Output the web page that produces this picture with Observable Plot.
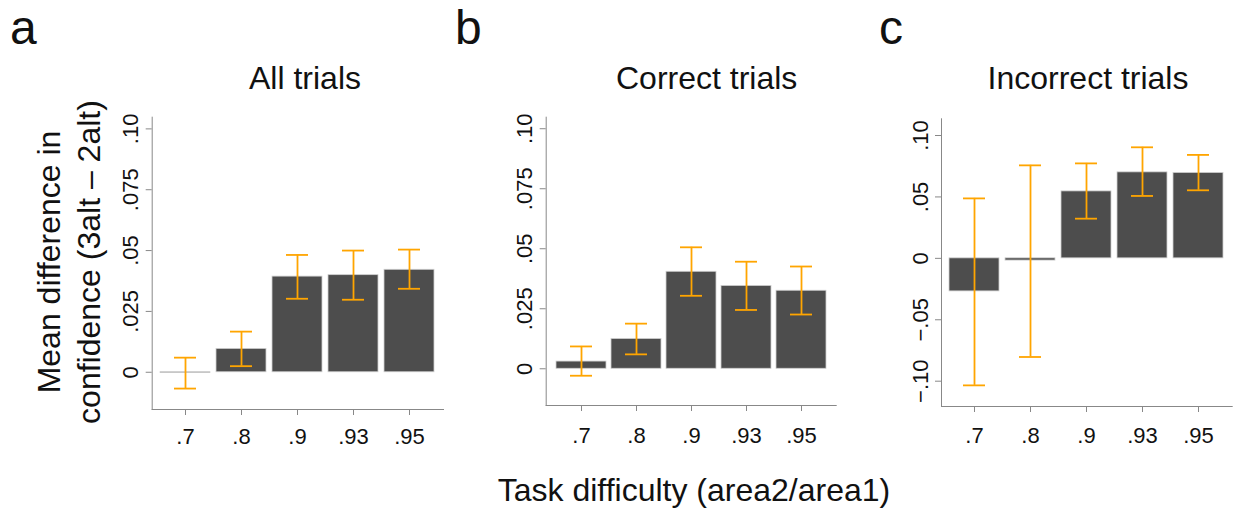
<!DOCTYPE html>
<html>
<head>
<meta charset="utf-8">
<script src="https://cdn.jsdelivr.net/npm/d3@7"></script>
<script src="https://cdn.jsdelivr.net/npm/@observablehq/plot@0.6"></script>
<style>
  html, body { margin: 0; padding: 0; background: #fff; }
  #root { position: relative; width: 1235px; height: 510px; overflow: hidden; font-family: "Liberation Sans", Arial, sans-serif; color: #111; }
  .abs { position: absolute; white-space: nowrap; }
  .panel { position: absolute; top: 0; }
</style>
</head>
<body>
<div id="root"></div>
<script>
// ---- data ----
const categories = [".7", ".8", ".9", ".93", ".95"];

const allMean = [-0.0003, 0.0096, 0.0393, 0.0399, 0.0421];
const allLo   = [-0.0067, 0.0025, 0.0302, 0.0298, 0.0343];
const allHi   = [ 0.0060, 0.0167, 0.0482, 0.0500, 0.0504];

const correctMean = [0.0030, 0.0124, 0.0404, 0.0345, 0.0325];
const correctLo   = [-0.0029, 0.0060, 0.0304, 0.0245, 0.0226];
const correctHi   = [0.0093, 0.0188, 0.0506, 0.0446, 0.0426];

const incorrectMean = [-0.0269, -0.0018, 0.0545, 0.0700, 0.0695];
const incorrectLo   = [-0.1034, -0.0803, 0.0323, 0.0508, 0.0554];
const incorrectHi   = [ 0.0488,  0.0757, 0.0773, 0.0904, 0.0842];

const yTicksAB = [0, 0.025, 0.05, 0.075, 0.1];
const yTickLabelsAB = ["0", ".025", ".05", ".075", ".10"];
const yTicksC = [-0.1, -0.05, 0, 0.05, 0.1];
const yTickLabelsC = ["\u2212.10", "\u2212.05", "0", ".05", ".10"];

const panelLetters = ["a", "b", "c"];
const panelTitles = ["All trials", "Correct trials", "Incorrect trials"];
const yLabelLines = ["Mean difference in", "confidence (3alt \u2013 2alt)"];
const xTitle = "Task difficulty (area2/area1)";

// ---- helpers ----
function rows(mean, lo, hi) {
  return categories.map((c, i) => ({cat: c, mean: mean[i], lo: lo[i], hi: hi[i]}));
}

function panel(data, cfg) {
  return Plot.plot({
    width: cfg.width,
    height: 460,
    marginLeft: cfg.ml,
    marginRight: cfg.mr,
    marginTop: cfg.mt,
    marginBottom: cfg.mb,
    style: {fontFamily: "'Liberation Sans', Arial, sans-serif", fontSize: "22px", background: "transparent", overflow: "visible"},
    x: {type: "band", domain: categories, paddingInner: 0.1, paddingOuter: 0.14, axis: null},
    y: {domain: cfg.domain, axis: null},
    marks: [
      Plot.barY(data, {x: "cat", y: "mean", fill: "#4d4d4d", stroke: "#cfcfcf", strokeWidth: 0.8}),
      Plot.ruleX(data, {x: "cat", y1: "lo", y2: "hi", stroke: "#FFA500", strokeWidth: 1.8}),
      Plot.tickY(data, {x: "cat", y: "lo", stroke: "#FFA500", strokeWidth: 1.8, insetLeft: 14, insetRight: 14}),
      Plot.tickY(data, {x: "cat", y: "hi", stroke: "#FFA500", strokeWidth: 1.8, insetLeft: 14, insetRight: 14}),
      Plot.frame({anchor: "left", stroke: "#888"}),
      Plot.frame({anchor: "bottom", stroke: "#888"}),
      Plot.axisY({ticks: cfg.ticks, tickFormat: d => cfg.labels[cfg.ticks.indexOf(d)], tickSize: 6, tickPadding: 8, tickRotate: -90, stroke: "#888", fill: "#111", fontSize: 22, label: null}),
      Plot.axisX({tickSize: 6, tickPadding: cfg.xpad, stroke: "#888", fill: "#111", fontSize: 22, label: null})
    ]
  });
}

const root = document.getElementById("root");

const configs = [
  {left: 0,   width: 450, ml: 151.7, mr: 7,    mt: 116.7, mb: 51, domain: [-0.0153, 0.1048], ticks: yTicksAB, labels: yTickLabelsAB, xpad: 12.5},
  {left: 450, width: 400, ml: 95.7,  mr: 14.3, mt: 116.7, mb: 55, domain: [-0.0153, 0.1048], ticks: yTicksAB, labels: yTickLabelsAB, xpad: 16},
  {left: 850, width: 385, ml: 91,    mr: 3.3,  mt: 118.3, mb: 54, domain: [-0.1206, 0.1136], ticks: yTicksC,  labels: yTickLabelsC,  xpad: 15}
];
const datasets = [
  rows(allMean, allLo, allHi),
  rows(correctMean, correctLo, correctHi),
  rows(incorrectMean, incorrectLo, incorrectHi)
];

configs.forEach((cfg, i) => {
  const wrap = document.createElement("div");
  wrap.className = "panel";
  wrap.style.left = cfg.left + "px";
  wrap.appendChild(panel(datasets[i], cfg));
  root.appendChild(wrap);
});

function addText(txt, {left, top, size, center = false}) {
  const d = document.createElement("div");
  d.className = "abs";
  d.textContent = txt;
  d.style.left = left + "px";
  d.style.top = top + "px";
  d.style.fontSize = size + "px";
  d.style.lineHeight = size + "px";
  if (center) d.style.transform = "translateX(-50%)";
  root.appendChild(d);
}

// panel letters (baseline ~45)
const letterLeft = [10, 455, 879];
panelLetters.forEach((l, i) => addText(l, {left: letterLeft[i], top: 4.4, size: 48}));

// panel titles (baseline ~89)
const titleCenter = [305, 706.7, 1088];
panelTitles.forEach((t, i) => addText(t, {left: titleCenter[i], top: 62.2, size: 32, center: true}));

// x-axis title
addText(xTitle, {left: 694, top: 473.6, size: 32, center: true});

// y-axis label (two lines, rotated)
const yl = document.createElement("div");
yl.className = "abs";
yl.style.cssText += "left:69px;top:262px;font-size:32px;line-height:40px;text-align:center;transform:translate(-50%,-50%) rotate(-90deg);";
yl.innerHTML = yLabelLines.map(s => `<div>${s}</div>`).join("");
root.appendChild(yl);
</script>
</body>
</html>
